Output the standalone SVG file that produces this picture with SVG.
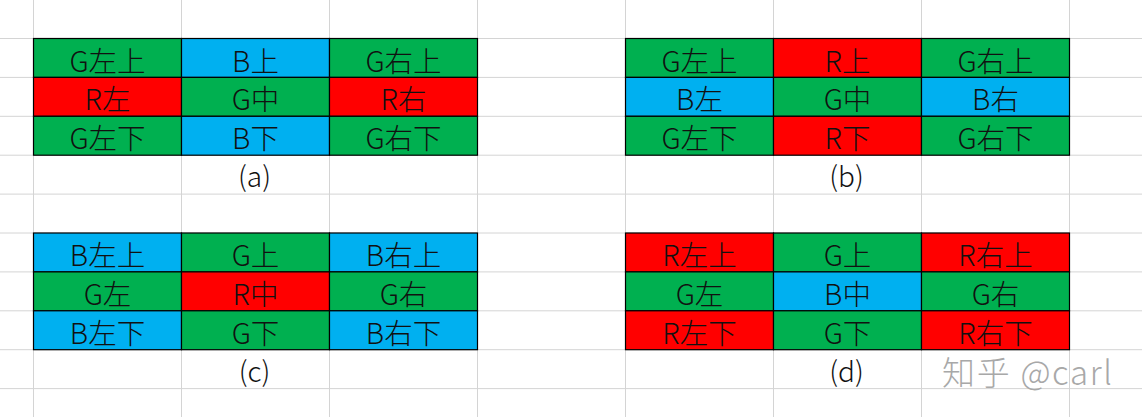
<svg xmlns="http://www.w3.org/2000/svg" width="1142" height="417" viewBox="0 0 1142 417">
<style>
.grid{stroke:#d4d4d4;stroke-width:1;fill:none}
.g{fill:#00B050}
.b{fill:#00B0F0}
.r{fill:#FF0000}
.cell{stroke:#000;stroke-width:1.2}
.t{font-family:"Noto Sans CJK SC","Liberation Sans",sans-serif;font-size:28.5px;font-weight:300;fill:#111;text-anchor:middle}
.lbl{font-family:"Noto Sans CJK SC","Liberation Sans",sans-serif;font-size:28px;font-weight:300;fill:#111;text-anchor:middle}
.wm{font-family:"Noto Sans CJK SC","Liberation Sans",sans-serif;font-size:33px;font-weight:300;fill:#a8a8a8}
</style>
<rect width="1142" height="417" fill="#fff"/>
<g id="grid" class="grid">
<path d="M33.5 0V417M181.5 0V417M329.5 0V417M477.5 0V417M625.5 0V417M773.5 0V417M921.5 0V417M1069.5 0V417"/>
<path d="M0 38.5H1142M0 77.4H1142M0 116.3H1142M0 155.2H1142M0 194.1H1142M0 233H1142M0 271.9H1142M0 310.8H1142M0 349.7H1142M0 388.6H1142"/>
</g>
<g id="table-a">
<rect class="cell g" x="33.5" y="38.5" width="148" height="38.9"/>
<rect class="cell b" x="181.5" y="38.5" width="148" height="38.9"/>
<rect class="cell g" x="329.5" y="38.5" width="148" height="38.9"/>
<rect class="cell r" x="33.5" y="77.4" width="148" height="38.9"/>
<rect class="cell g" x="181.5" y="77.4" width="148" height="38.9"/>
<rect class="cell r" x="329.5" y="77.4" width="148" height="38.9"/>
<rect class="cell g" x="33.5" y="116.3" width="148" height="38.9"/>
<rect class="cell b" x="181.5" y="116.3" width="148" height="38.9"/>
<rect class="cell g" x="329.5" y="116.3" width="148" height="38.9"/>
<text class="t" x="107.5" y="71.5">G左上</text>
<text class="t" x="255.5" y="71.5">B上</text>
<text class="t" x="403.5" y="71.5">G右上</text>
<text class="t" x="107.5" y="110.4">R左</text>
<text class="t" x="255.5" y="110.4">G中</text>
<text class="t" x="403.5" y="110.4">R右</text>
<text class="t" x="107.5" y="149.3">G左下</text>
<text class="t" x="255.5" y="149.3">B下</text>
<text class="t" x="403.5" y="149.3">G右下</text>
<text class="lbl" x="254.5" y="187">(a)</text>
</g>
<g id="table-b">
<rect class="cell g" x="625.5" y="38.5" width="148" height="38.9"/>
<rect class="cell r" x="773.5" y="38.5" width="148" height="38.9"/>
<rect class="cell g" x="921.5" y="38.5" width="148" height="38.9"/>
<rect class="cell b" x="625.5" y="77.4" width="148" height="38.9"/>
<rect class="cell g" x="773.5" y="77.4" width="148" height="38.9"/>
<rect class="cell b" x="921.5" y="77.4" width="148" height="38.9"/>
<rect class="cell g" x="625.5" y="116.3" width="148" height="38.9"/>
<rect class="cell r" x="773.5" y="116.3" width="148" height="38.9"/>
<rect class="cell g" x="921.5" y="116.3" width="148" height="38.9"/>
<text class="t" x="699.5" y="71.5">G左上</text>
<text class="t" x="847.5" y="71.5">R上</text>
<text class="t" x="995.5" y="71.5">G右上</text>
<text class="t" x="699.5" y="110.4">B左</text>
<text class="t" x="847.5" y="110.4">G中</text>
<text class="t" x="995.5" y="110.4">B右</text>
<text class="t" x="699.5" y="149.3">G左下</text>
<text class="t" x="847.5" y="149.3">R下</text>
<text class="t" x="995.5" y="149.3">G右下</text>
<text class="lbl" x="846.5" y="187">(b)</text>
</g>
<g id="table-c">
<rect class="cell b" x="33.5" y="233" width="148" height="38.9"/>
<rect class="cell g" x="181.5" y="233" width="148" height="38.9"/>
<rect class="cell b" x="329.5" y="233" width="148" height="38.9"/>
<rect class="cell g" x="33.5" y="271.9" width="148" height="38.9"/>
<rect class="cell r" x="181.5" y="271.9" width="148" height="38.9"/>
<rect class="cell g" x="329.5" y="271.9" width="148" height="38.9"/>
<rect class="cell b" x="33.5" y="310.8" width="148" height="38.9"/>
<rect class="cell g" x="181.5" y="310.8" width="148" height="38.9"/>
<rect class="cell b" x="329.5" y="310.8" width="148" height="38.9"/>
<text class="t" x="107.5" y="266">B左上</text>
<text class="t" x="255.5" y="266">G上</text>
<text class="t" x="403.5" y="266">B右上</text>
<text class="t" x="107.5" y="304.9">G左</text>
<text class="t" x="255.5" y="304.9">R中</text>
<text class="t" x="403.5" y="304.9">G右</text>
<text class="t" x="107.5" y="343.8">B左下</text>
<text class="t" x="255.5" y="343.8">G下</text>
<text class="t" x="403.5" y="343.8">B右下</text>
<text class="lbl" x="254.5" y="382">(c)</text>
</g>
<g id="table-d">
<rect class="cell r" x="625.5" y="233" width="148" height="38.9"/>
<rect class="cell g" x="773.5" y="233" width="148" height="38.9"/>
<rect class="cell r" x="921.5" y="233" width="148" height="38.9"/>
<rect class="cell g" x="625.5" y="271.9" width="148" height="38.9"/>
<rect class="cell b" x="773.5" y="271.9" width="148" height="38.9"/>
<rect class="cell g" x="921.5" y="271.9" width="148" height="38.9"/>
<rect class="cell r" x="625.5" y="310.8" width="148" height="38.9"/>
<rect class="cell g" x="773.5" y="310.8" width="148" height="38.9"/>
<rect class="cell r" x="921.5" y="310.8" width="148" height="38.9"/>
<text class="t" x="699.5" y="266">R左上</text>
<text class="t" x="847.5" y="266">G上</text>
<text class="t" x="995.5" y="266">R右上</text>
<text class="t" x="699.5" y="304.9">G左</text>
<text class="t" x="847.5" y="304.9">B中</text>
<text class="t" x="995.5" y="304.9">G右</text>
<text class="t" x="699.5" y="343.8">R左下</text>
<text class="t" x="847.5" y="343.8">G下</text>
<text class="t" x="995.5" y="343.8">R右下</text>
<text class="lbl" x="846.5" y="382">(d)</text>
</g>
<g id="watermark">
<text class="wm" x="942" y="385" textLength="170" lengthAdjust="spacing">知乎 @carl</text>
</g>
</svg>
